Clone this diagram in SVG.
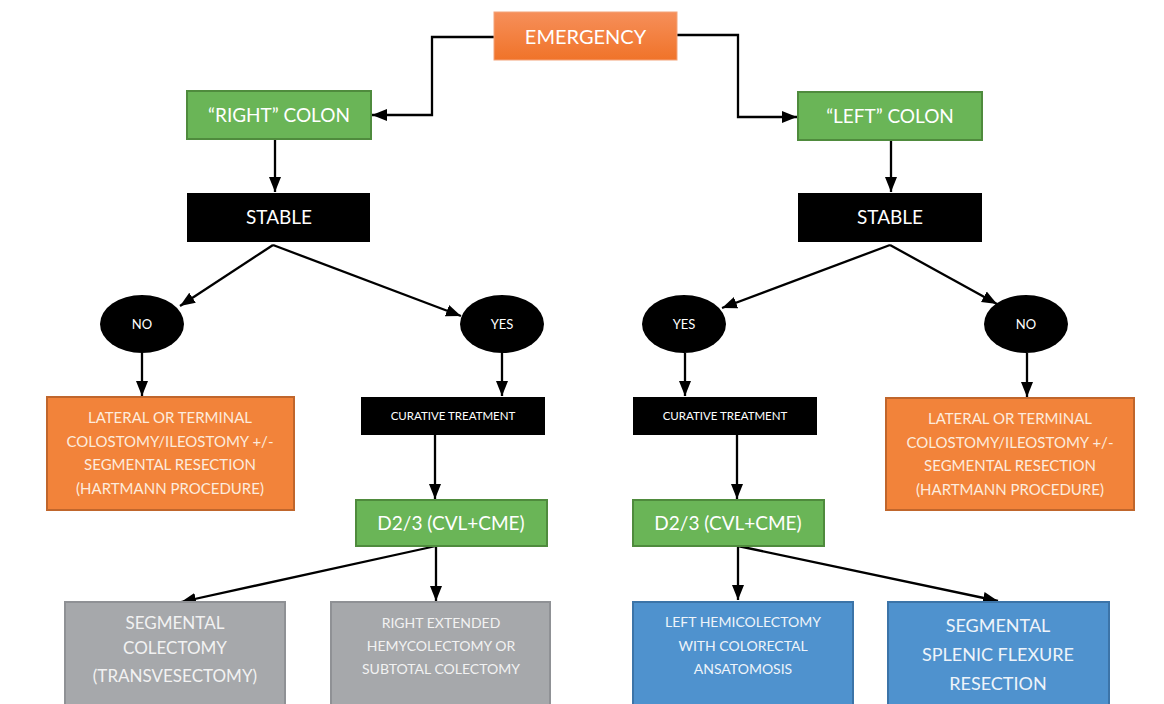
<svg xmlns="http://www.w3.org/2000/svg" width="1164" height="704" viewBox="0 0 1164 704">
<defs>
<linearGradient id="gOr" x1="0" y1="0" x2="0" y2="1"><stop offset="0" stop-color="#F68F5A"/><stop offset="1" stop-color="#F07329"/></linearGradient>
<marker id="ah" markerUnits="userSpaceOnUse" markerWidth="15" markerHeight="15" viewBox="0 0 15 15" refX="15" refY="7.500" orient="auto"><path d="M0,1.500 L15,7.500 L0,13.500 Z" fill="#000"/></marker>
<style>
text{font-family:Lato,"Liberation Sans",sans-serif;text-anchor:middle;fill:#fff}
.grn{fill:#6AB557;stroke:#4F8B3D;stroke-width:2}
.blk{fill:#000}
.org{fill:#F2833A;stroke:#C0662C;stroke-width:2}
.gry{fill:#A6A8AB;stroke:#8F9195;stroke-width:2}
.blu{fill:#4F92CE;stroke:#3C74A8;stroke-width:2}
.ot{fill:#FDEBDD;font-size:15px}
.gt{fill:#F2F2F2}
.bt{fill:#EEF4FA}
#conn path{fill:none;stroke:#000;stroke-width:2.300;marker-end:url(#ah)}
</style>
</defs>
<rect width="1164" height="704" fill="#fff"/>
<g id="conn">
<path d="M494,37 H432 V115 H372"/>
<path d="M677,35 H738 V117 H797"/>
<path d="M275,140 V192"/>
<path d="M891,141 V192"/>
<path d="M273,245 L180,306"/>
<path d="M273,245 L461,316"/>
<path d="M890,245 L722,308"/>
<path d="M890,245 L997,304"/>
<path d="M142,353 V396"/>
<path d="M502,353 V396"/>
<path d="M685,353 V396"/>
<path d="M1027,353 V397"/>
<path d="M435,435 V499"/>
<path d="M737,435 V499"/>
<path d="M436,546 L181,602"/>
<path d="M436,546 V601"/>
<path d="M738,546 V600"/>
<path d="M738,546 L998,601"/>
</g>
<g id="emergency"><rect x="494" y="12" width="183" height="48" fill="url(#gOr)" stroke="#F4A47A" stroke-width="1"/><text x="585.500" y="44" font-size="20" fill="#FDE9DC">EMERGENCY</text></g>
<g id="rightColon"><rect class="grn" x="187" y="91" width="184" height="48"/><text x="279" y="122" font-size="19">“RIGHT” COLON</text></g>
<g id="leftColon"><rect class="grn" x="798" y="92" width="184" height="48"/><text x="890" y="123" font-size="19">“LEFT” COLON</text></g>
<g id="stableR"><rect class="blk" x="187" y="193" width="183" height="49"/><text x="279" y="224" font-size="19">STABLE</text></g>
<g id="stableL"><rect class="blk" x="798" y="193" width="184" height="49"/><text x="890" y="224" font-size="19">STABLE</text></g>
<g id="noR"><ellipse class="blk" cx="142" cy="324" rx="42" ry="29"/><text x="142" y="329" font-size="13">NO</text></g>
<g id="yesR"><ellipse class="blk" cx="502" cy="324" rx="42" ry="29"/><text x="502" y="329" font-size="13">YES</text></g>
<g id="yesL"><ellipse class="blk" cx="684" cy="324" rx="42" ry="29"/><text x="684" y="329" font-size="13">YES</text></g>
<g id="noL"><ellipse class="blk" cx="1026" cy="324" rx="42" ry="29"/><text x="1026" y="329" font-size="13">NO</text></g>
<g id="hartR"><rect class="org" x="47" y="397" width="247" height="113"/>
<text class="ot" x="170" y="423">LATERAL OR TERMINAL</text>
<text class="ot" x="170" y="447">COLOSTOMY/ILEOSTOMY +/-</text>
<text class="ot" x="170" y="470">SEGMENTAL RESECTION</text>
<text class="ot" x="170" y="494">(HARTMANN PROCEDURE)</text></g>
<g id="hartL"><rect class="org" x="886" y="398" width="248" height="112"/>
<text class="ot" x="1010" y="424">LATERAL OR TERMINAL</text>
<text class="ot" x="1010" y="448">COLOSTOMY/ILEOSTOMY +/-</text>
<text class="ot" x="1010" y="471">SEGMENTAL RESECTION</text>
<text class="ot" x="1010" y="495">(HARTMANN PROCEDURE)</text></g>
<g id="curR"><rect class="blk" x="361" y="397" width="184" height="38"/><text x="453" y="420" font-size="11.500" fill="#FDEBDD">CURATIVE TREATMENT</text></g>
<g id="curL"><rect class="blk" x="633" y="397" width="184" height="38"/><text x="725" y="420" font-size="11.500" fill="#FDEBDD">CURATIVE TREATMENT</text></g>
<g id="d23R"><rect class="grn" x="356" y="500" width="191" height="46"/><text x="451" y="530" font-size="19">D2/3 (CVL+CME)</text></g>
<g id="d23L"><rect class="grn" x="633" y="500" width="191" height="46"/><text x="728" y="530" font-size="19">D2/3 (CVL+CME)</text></g>
<g id="segCol"><rect class="gry" x="65" y="602" width="220" height="110"/>
<text class="gt" x="175" y="629" font-size="17">SEGMENTAL</text>
<text class="gt" x="175" y="654" font-size="17">COLECTOMY</text>
<text class="gt" x="175" y="682" font-size="17">(TRANSVESECTOMY)</text></g>
<g id="rightExt"><rect class="gry" x="331" y="602" width="219" height="110"/>
<text class="gt" x="441" y="628" font-size="14">RIGHT EXTENDED</text>
<text class="gt" x="441" y="651" font-size="14">HEMYCOLECTOMY OR</text>
<text class="gt" x="441" y="674" font-size="14">SUBTOTAL COLECTOMY</text></g>
<g id="leftHemi"><rect class="blu" x="633" y="602" width="220" height="110"/>
<text class="bt" x="743" y="627" font-size="14">LEFT HEMICOLECTOMY</text>
<text class="bt" x="743" y="651" font-size="14">WITH COLORECTAL</text>
<text class="bt" x="743" y="674" font-size="14">ANSATOMOSIS</text></g>
<g id="segSplenic"><rect class="blu" x="888" y="602" width="221" height="110"/>
<text class="bt" x="998" y="632" font-size="18">SEGMENTAL</text>
<text class="bt" x="998" y="661" font-size="18">SPLENIC FLEXURE</text>
<text class="bt" x="998" y="690" font-size="18">RESECTION</text></g>
</svg>
